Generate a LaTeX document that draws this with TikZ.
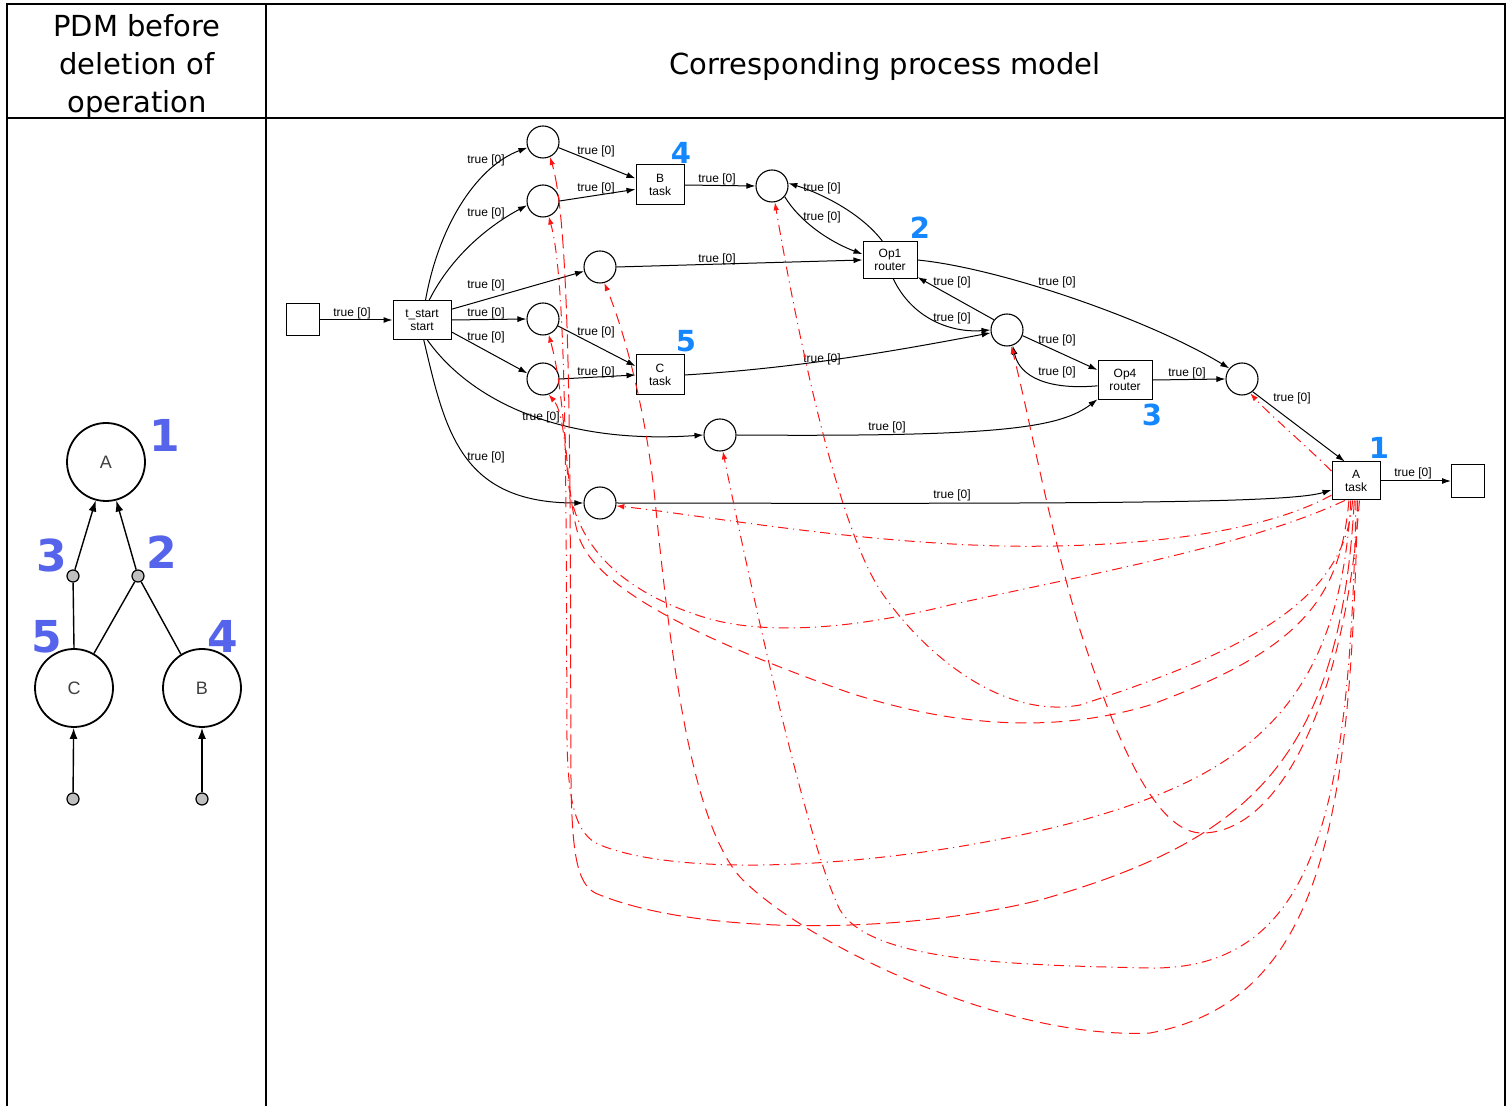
\documentclass[tikz,border=0pt]{standalone}
\usepackage{fontspec}
\setmainfont{Liberation Sans}
\newfontfamily\hdrfont{DejaVu Sans}
\usetikzlibrary{arrows.meta}
\definecolor{pdmblue}{RGB}{85,100,235}
\definecolor{pmblue}{RGB}{20,135,255}
\definecolor{depred}{RGB}{255,20,20}
\begin{document}
\begin{tikzpicture}[x=0.5pt,y=-0.5pt]
        \tikzstyle{frame}=[line width=1pt];
        \tikzstyle{hdr}=[font=\hdrfont\fontsize{14.5}{19}\selectfont, align=center];
        \tikzstyle{op}=[circle, draw, line width=0.9pt, minimum size=39pt, inner sep=0pt, font=\fontsize{9}{9}\selectfont, text=black!75];
        \tikzstyle{gdot}=[circle, draw, fill=gray!50, line width=0.6pt, minimum size=6pt, inner sep=0pt];
        \tikzstyle{pdmedge}=[line width=0.7pt];
        \tikzstyle{num}=[font=\hdrfont\bfseries\fontsize{22}{22}\selectfont, text=pdmblue, inner sep=0pt];
        \tikzstyle{pnum}=[font=\hdrfont\bfseries\fontsize{14.5}{14.5}\selectfont, text=pmblue, inner sep=0pt];
        \tikzstyle{place}=[circle, draw, line width=0.55pt, minimum size=16pt, inner sep=0pt];
        \tikzstyle{trans}=[rectangle, draw, line width=0.5pt, minimum width=24pt, minimum height=20pt, inner sep=0.5pt, align=center, font=\fontsize{6}{6.5}\selectfont];
        \tikzstyle{flow}=[line width=0.5pt, -{Latex[length=4.5pt,width=3pt]}];
        \tikzstyle{lbl}=[font=\fontsize{6}{6}\selectfont, inner sep=0pt];
        \tikzstyle{dep}=[depred, line width=0.5pt, dash pattern=on 5.5pt off 3.5pt, -{Latex[length=4pt,width=2.8pt]}];
        \tikzstyle{depdot}=[dep, dash pattern=on 5pt off 2.5pt on 0.6pt off 2.5pt];
        \tikzstyle{deplong}=[dep, dash pattern=on 7pt off 3pt];
        \useasboundingbox (0,0) rectangle (1511,1106);
        \draw[frame] (7,1106) -- (7,4) -- (1505,4) -- (1505,1106);
        \draw[frame] (7,118) -- (1505,118);
        \draw[frame] (266,4) -- (266,1106);
        \node[hdr] (pdmhead) at (137,67) {PDM before\\deletion of\\operation};
        \node[hdr] (pmhead) at (885,67) {Corresponding process model};
        \node[op] (dA) at (106,462) {A};
        \node[op] (dC) at (74,688) {C};
        \node[op] (dB) at (202,688) {B};
        \node[gdot] (g3) at (73,576) {};
        \node[gdot] (g2) at (138,576) {};
        \node[gdot] (inC) at (73,799) {};
        \node[gdot] (inB) at (202,799) {};
        \draw[pdmedge, -{Latex[length=5.5pt,width=4pt]}] (g3) -- (dA.-105);
        \draw[pdmedge, -{Latex[length=5.5pt,width=4pt]}] (g2) -- (dA.-75);
        \draw[pdmedge] (dC.90) -- (g3);
        \draw[pdmedge] (dC.60) -- (g2);
        \draw[pdmedge] (dB.122) -- (g2);
        \draw[pdmedge, -{Latex[length=5.5pt,width=4pt]}] (inC) -- (dC);
        \draw[pdmedge, -{Latex[length=5.5pt,width=4pt]}] (inB) -- (dB);
        \node[num] (n1) at (165,435) {1};
        \node[num] (n3) at (52,555) {3};
        \node[num] (n2) at (162,552) {2};
        \node[num] (n5) at (47,637) {5};
        \node[num] (n4) at (223,636) {4};
        \node[trans, minimum width=16.5pt, minimum height=16pt] (src) at (303,320) {};
        \node[trans, minimum width=29pt, minimum height=19.5pt] (tstart) at (422,320) {t\_start\\start};
        \node[trans] (Btask) at (660,185) {B\\task};
        \node[trans] (Ctask) at (660,375) {C\\task};
        \node[trans, minimum width=27pt, minimum height=18.5pt] (op1) at (890,260) {Op1\\router};
        \node[trans, minimum width=27pt, minimum height=19.5pt] (op4) at (1125,380) {Op4\\router};
        \node[trans, minimum height=19pt] (Atask) at (1356,481) {A\\task};
        \node[trans, minimum width=16.5pt, minimum height=16.5pt] (sink) at (1468,481) {};
        \node[place] (p1) at (543,142) {};
        \node[place] (p2) at (543,201) {};
        \node[place] (p3) at (600,267) {};
        \node[place] (p4) at (543,319) {};
        \node[place] (p5) at (543,379) {};
        \node[place] (p6) at (720,435) {};
        \node[place] (p7) at (600,503) {};
        \node[place] (p8) at (772,186) {};
        \node[place] (p9) at (1007,330) {};
        \node[place] (p10) at (1242,379) {};
        \node[pnum] (m4) at (681,153) {4};
        \node[pnum] (m2) at (920,228) {2};
        \node[pnum] (m5) at (686,341) {5};
        \node[pnum] (m3) at (1152,415) {3};
        \node[pnum] (m1) at (1379,448) {1};
        \draw[flow] (src) -- (tstart) node[lbl] at (352,313) {true [0]};
        \draw[flow] (tstart.80) .. controls (440,220) and (480,165) .. (p1.200) node[lbl] at (486,160) {true [0]};
        \draw[flow] (tstart.70) .. controls (452,255) and (490,225) .. (p2.195) node[lbl] at (486,213) {true [0]};
        \draw[flow] (tstart.20) -- (p3.195) node[lbl] at (486,285) {true [0]};
        \draw[flow] (tstart.east) -- (p4.west) node[lbl] at (486,313) {true [0]};
        \draw[flow] (tstart.-22) -- (p5.160) node[lbl] at (486,337) {true [0]};
        \draw[flow] (tstart.-75) .. controls (470,400) and (560,445) .. (p6.west) node[lbl] at (541,417) {true [0]};
        \draw[flow] (tstart.-85) .. controls (445,430) and (460,503) .. (p7.west) node[lbl] at (486,457) {true [0]};
        \draw[flow] (p1.-20) -- (Btask.165) node[lbl] at (596,151) {true [0]};
        \draw[flow] (p2.east) -- (Btask.-170) node[lbl] at (596,188) {true [0]};
        \draw[flow] (Btask.east) -- (p8.west) node[lbl] at (717,179) {true [0]};
        \draw[flow] (p4.-25) -- (Ctask.160) node[lbl] at (596,332) {true [0]};
        \draw[flow] (p5.east) -- (Ctask.west) node[lbl] at (596,372) {true [0]};
        \draw[flow] (p3.east) -- (op1.west) node[lbl] at (717,259) {true [0]};
        \draw[flow] (op1.112) .. controls (860,212) and (820,193) .. (p8.10) node[lbl] at (822,188) {true [0]};
        \draw[flow] (p8.-40) .. controls (800,222) and (830,242) .. (op1.168) node[lbl] at (822,217) {true [0]};
        \draw[flow] (Ctask.east) .. controls (800,368) and (900,350) .. (p9.190) node[lbl] at (822,359) {true [0]};
        \draw[flow] (op1.-80) .. controls (912,318) and (950,333) .. (p9.west) node[lbl] at (952,318) {true [0]};
        \draw[flow] (p9.142) -- (op1.-32) node[lbl] at (952,282) {true [0]};
        \draw[flow] (p9.-20) -- (op4.160) node[lbl] at (1057,340) {true [0]};
        \draw[flow] (op4.-168) .. controls (1050,390) and (1020,378) .. (p9.-70) node[lbl] at (1057,372) {true [0]};
        \draw[flow] (op1.east) .. controls (1000,268) and (1150,320) .. (p10.140) node[lbl] at (1057,282) {true [0]};
        \draw[flow] (p6.east) .. controls (1000,437) and (1060,428) .. (op4.-145) node[lbl] at (887,427) {true [0]};
        \draw[flow] (op4.east) -- (p10.west) node[lbl] at (1187,373) {true [0]};
        \draw[flow] (p10.-50) -- (Atask.120) node[lbl] at (1292,398) {true [0]};
        \draw[flow] (p7.east) .. controls (1100,504) and (1290,503) .. (Atask.-160) node[lbl] at (952,495) {true [0]};
        \draw[flow] (Atask.east) -- (sink.west) node[lbl] at (1413,473) {true [0]};
        \draw[depdot] (Atask.158) .. controls (1300,440) and (1270,415) .. (p10.-60);
        \draw[depdot] (Atask.-150) .. controls (1250,540) and (1100,548) .. (1000,546) .. controls (850,542) and (700,515) .. (p7.-10);
        \draw[depdot] (Atask.-120) .. controls (1250,545) and (1100,572) .. (950,605) .. controls (850,630) and (760,636) .. (700,616) .. controls (620,590) and (575,545) .. (568,480) .. controls (565,440) and (562,410) .. (p5.-70);
        \draw[dep] (Atask.-110) .. controls (1340,600) and (1300,650) .. (1150,705) .. controls (1050,735) and (950,725) .. (850,693) .. controls (700,640) and (600,590) .. (580,540) .. controls (565,500) and (567,400) .. (p4.-70);
        \draw[depdot] (Atask.-100) .. controls (1345,600) and (1250,650) .. (1080,705) .. controls (1000,720) and (920,650) .. (880,590) .. controls (835,520) and (795,320) .. (p8.-80);
        \draw[dep] (Atask.-85) .. controls (1350,800) and (1330,1000) .. (1150,1033) .. controls (1000,1040) and (800,940) .. (740,877) .. controls (690,820) and (670,650) .. (655,500) .. controls (645,400) and (620,320) .. (p3.-75);
        \draw[depdot] (Atask.-90) .. controls (1350,800) and (1320,970) .. (1150,968) .. controls (1000,965) and (870,960) .. (840,910) .. controls (805,840) and (745,560) .. (p6.-80);
        \draw[deplong] (Atask.-95) .. controls (1340,760) and (1250,840) .. (1040,900) .. controls (900,935) and (700,935) .. (600,895) .. controls (578,888) and (572,860) .. (571,780) .. controls (570,500) and (572,230) .. (p1.-65);
        \draw[depdot] (Atask.-105) .. controls (1340,700) and (1250,770) .. (1100,815) .. controls (950,860) and (700,885) .. (600,845) .. controls (575,835) and (568,800) .. (567,740) .. controls (566,500) and (567,280) .. (p2.-70);
        \draw[dep] (Atask.-80) .. controls (1345,700) and (1280,835) .. (1200,833) .. controls (1150,830) and (1110,720) .. (1080,630) .. controls (1050,530) and (1030,420) .. (p9.-75);
\end{tikzpicture}
\end{document}
